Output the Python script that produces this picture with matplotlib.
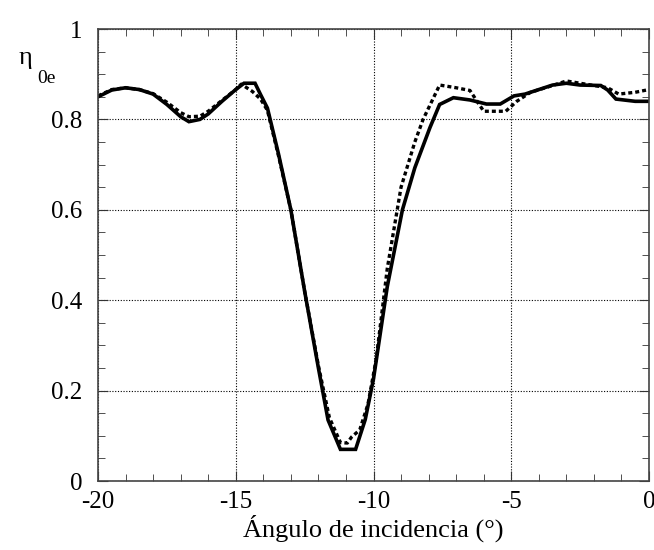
import numpy as np
import matplotlib
matplotlib.use('Agg')
import matplotlib.pyplot as plt
from matplotlib.ticker import MultipleLocator

plt.rcParams['font.family'] = ['Liberation Serif', 'DejaVu Serif']
plt.rcParams['axes.unicode_minus'] = False

# solid curve
x1 = [-20, -19.5, -19, -18.5, -18, -17.5, -17, -16.7, -16.3, -16, -15.5, -15,
      -14.7, -14.3, -14.1, -13.85, -13.45, -13.0, -12.5, -12.0, -11.65, -11.2,
      -10.65, -10.3, -10.0, -9.5, -8.95, -8.5, -7.95, -7.6, -7.1, -6.5, -5.9,
      -5.4, -4.9, -4.5, -4.0, -3.5, -3.0, -2.5, -1.75, -1.5, -1.2, -0.5, 0]
y1 = [0.85, 0.865, 0.87, 0.866, 0.856, 0.833, 0.806, 0.795, 0.8, 0.812, 0.84,
      0.866, 0.88, 0.88, 0.855, 0.825, 0.724, 0.6, 0.42, 0.25, 0.135, 0.07,
      0.07, 0.136, 0.226, 0.43, 0.6, 0.693, 0.782, 0.833, 0.848, 0.843, 0.834,
      0.834, 0.852, 0.856, 0.866, 0.876, 0.88, 0.876, 0.875, 0.865, 0.845,
      0.84, 0.84]

# dashed curve
x2 = [-20, -19.5, -19, -18.5, -18, -17.5, -17, -16.7, -16.3, -16, -15.5, -15,
      -14.8, -14.4, -14.1, -13.85, -13.45, -13.0, -12.5, -12.0, -11.6, -11.2,
      -10.95, -10.8, -10.5, -10.2, -9.9, -9.5, -9.0, -8.5, -8.2, -7.6, -7.0,
      -6.5, -6.0, -5.2, -4.8, -4.3, -3.5, -3.0, -2.0, -1.5, -1.1, -0.5, 0]
y2 = [0.852, 0.866, 0.87, 0.866, 0.857, 0.838, 0.815, 0.806, 0.807, 0.818,
      0.842, 0.866, 0.878, 0.862, 0.845, 0.82, 0.72, 0.6, 0.42, 0.255, 0.14,
      0.085, 0.084, 0.097, 0.113, 0.17, 0.27, 0.47, 0.65, 0.75, 0.8, 0.876,
      0.87, 0.864, 0.818, 0.818, 0.84, 0.86, 0.875, 0.885, 0.875, 0.87, 0.856,
      0.86, 0.866]

fig = plt.figure(figsize=(6.54, 5.5), dpi=100)
ax = fig.add_axes([98/654, 1-481/550, 551/654, 452/550])

ax.plot(x1, y1, color='black', lw=2.6, solid_joinstyle='miter')
ax.plot(x2, y2, color='black', lw=2.4, linestyle=(0, (1.2, 0.9)))

ax.set_xlim(-20, 0)
ax.set_ylim(0, 1)
ax.xaxis.set_major_locator(MultipleLocator(5))
ax.xaxis.set_minor_locator(MultipleLocator(1))
ax.yaxis.set_minor_locator(MultipleLocator(0.05))
ax.set_yticks([0, 0.2, 0.4, 0.6, 0.8, 1])
ax.set_yticklabels(['0', '0.2', '0.4', '0.6', '0.8', '1'])
ax.tick_params(which='both', direction='in', top=True, right=True,
               labelsize=18, color='#333333')
ax.tick_params(which='major', length=7)
ax.tick_params(which='minor', length=5)
ax.tick_params(axis='x', which='major', pad=7)
ax.tick_params(axis='y', which='major', pad=11)
ax.grid(True, which='major', color='black', linestyle=(0, (1, 1.5)), lw=0.8)
for s in ax.spines.values():
    s.set_color('#444444')
    s.set_linewidth(1.2)

ax.set_xlabel('Ángulo de incidencia (°)', fontsize=19, labelpad=1)
fig.text(19/654, 1-64/550, 'η', fontsize=19, ha='left', va='baseline')
fig.text(37/654, 1-83/550, '0e', fontsize=14, ha='left', va='baseline')

fig.savefig('out.png', dpi=100, facecolor='white')
